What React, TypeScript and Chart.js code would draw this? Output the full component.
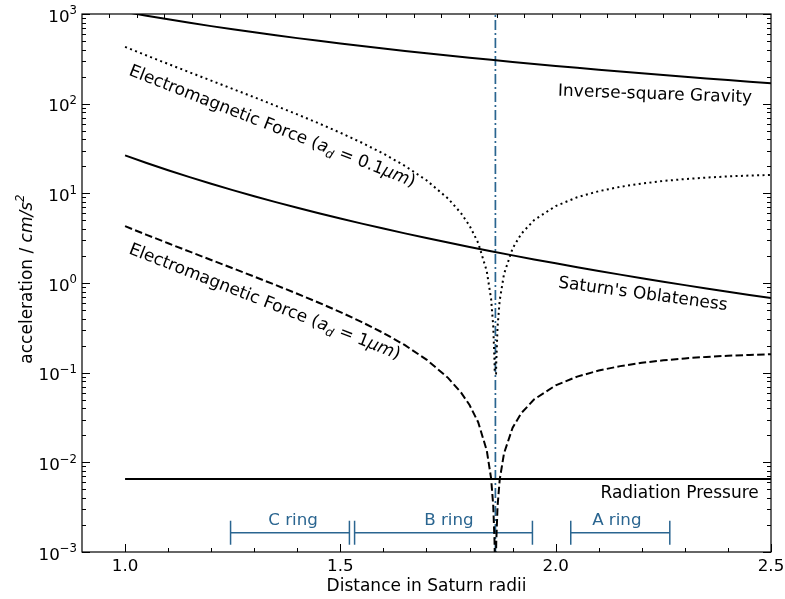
import React, { useEffect, useRef } from 'react';
import { Chart, registerables } from 'chart.js';

Chart.register(...registerables);

const FONT = '"DejaVu Sans", "Liberation Sans", sans-serif';
const BLUE = '#2a6590';
const INK = '#000000';

// ---- data ----
const distance = [
  1.0, 1.05, 1.1, 1.15, 1.2, 1.25, 1.3, 1.35, 1.4, 1.45, 1.5, 1.55, 1.6, 1.65, 1.7, 1.75, 1.8, 1.85, 1.9, 1.95, 2.0,
  2.05, 2.1, 2.15, 2.2, 2.25, 2.3, 2.35, 2.4, 2.45, 2.5,
];
const gravity = [
  1055, 956.9, 871.9, 797.7, 732.6, 675.2, 624.3, 578.9, 538.3, 501.8, 468.9, 439.1, 412.1, 387.5, 365.1, 344.5, 325.6,
  308.3, 292.2, 277.4, 263.8, 251.0, 239.2, 228.2, 218.0, 208.4, 199.4, 191.0, 183.2, 175.8, 168.8,
];
const oblateness = [
  26.5, 21.8, 18.1, 15.15, 12.78, 10.85, 9.278, 7.978, 6.898, 5.995, 5.235, 4.591, 4.044, 3.575, 3.173, 2.825, 2.524,
  2.262, 2.033, 1.833, 1.656, 1.5, 1.363, 1.24, 1.131, 1.034, 0.947, 0.8689, 0.7987, 0.7355, 0.6784,
];

const emDistance = [
  1.0, 1.05, 1.1, 1.15, 1.2, 1.25, 1.3, 1.35, 1.4, 1.45, 1.5, 1.55, 1.6, 1.65, 1.7, 1.75, 1.78, 1.8, 1.82, 1.84,
  1.85, 1.855, 1.858, 1.8585, 1.8615, 1.862, 1.865, 1.87, 1.88, 1.9, 1.92, 1.95, 2.0, 2.05, 2.1, 2.15, 2.2, 2.25,
  2.3, 2.35, 2.4, 2.45, 2.5,
];
const emSmallGrain = [
  430.1, 344.7, 277.3, 223.7, 180.7, 146.0, 117.8, 94.79, 75.88, 60.28, 47.37, 36.64, 27.7, 20.24, 13.99, 8.751, 6.022,
  4.355, 2.801, 1.352, 0.664, 0.329, 0.131, 0.098, 0.098, 0.13, 0.324, 0.641, 1.26, 2.435, 3.531, 5.037, 7.217, 9.041,
  10.56, 11.83, 12.87, 13.73, 14.43, 14.99, 15.44, 15.78, 16.04,
];
const emLargeGrain = [
  4.301, 3.447, 2.773, 2.237, 1.807, 1.46, 1.178, 0.9479, 0.7588, 0.6028, 0.4737, 0.3664, 0.277, 0.2024, 0.1399,
  0.08751, 0.06022, 0.04355, 0.02801, 0.01352, 0.00664, 0.00329, 0.00131, 0.00098, 0.00098, 0.0013, 0.00324, 0.00641,
  0.0126, 0.02435, 0.03531, 0.05037, 0.07217, 0.09041, 0.1056, 0.1183, 0.1287, 0.1373, 0.1443, 0.1499, 0.1544, 0.1578,
  0.1604,
];
const radiationDistance = [1.0, 2.5];
const radiation = [0.0065, 0.0065];
const syncOrbit = 1.86;

const ringNames = ['C ring', 'B ring', 'A ring'];
const ringInner = [1.245, 1.533, 2.035];
const ringOuter = [1.521, 1.946, 2.265];
const ringLabelX = [1.39, 1.752, 2.142];
const ringLevel = 0.00164;
const ringLabelLevel = 0.00201;

const xMajorTicks = [1.0, 1.5, 2.0, 2.5];
const xTickLabels = ['1.0', '1.5', '2.0', '2.5'];
const xMinorTicks = [1.1, 1.2, 1.3, 1.4, 1.6, 1.7, 1.8, 1.9, 2.1, 2.2, 2.3, 2.4];
const yMajorTicks = [1e-3, 1e-2, 1e-1, 1e0, 1e1, 1e2, 1e3];
const yTickExponents = ['\u22123', '\u22122', '\u22121', '0', '1', '2', '3'];
const topTickStart = 0.9629;
const topTickStep = 0.06427;

type Seg = { t: string; it?: boolean; sub?: boolean; sup?: boolean };

const annotations: { segs: Seg[]; x: number; y: number; angle: number }[] = [
  {
    segs: [
      { t: 'Electromagnetic Force (' },
      { t: 'a', it: true },
      { t: 'd', it: true, sub: true },
      { t: ' = 0.1' },
      { t: '\u03bcm', it: true },
      { t: ')' },
    ],
    x: 1.007,
    y: 210,
    angle: 21.5,
  },
  {
    segs: [
      { t: 'Electromagnetic Force (' },
      { t: 'a', it: true },
      { t: 'd', it: true, sub: true },
      { t: ' = 1' },
      { t: '\u03bcm', it: true },
      { t: ')' },
    ],
    x: 1.007,
    y: 2.15,
    angle: 21.5,
  },
  { segs: [{ t: 'Inverse-square Gravity' }], x: 2.005, y: 122.8, angle: 2 },
  { segs: [{ t: "Saturn's Oblateness" }], x: 2.005, y: 0.893, angle: 7.7 },
  { segs: [{ t: 'Radiation Pressure' }], x: 2.104, y: 0.00399, angle: 0 },
];

function segFont(s: Seg, size: number) {
  const sz = s.sub || s.sup ? size * 0.7 : size;
  return `${s.it ? 'italic ' : ''}${sz}px ${FONT}`;
}

function richWidth(ctx: CanvasRenderingContext2D, segs: Seg[], size: number) {
  let w = 0;
  for (const s of segs) {
    ctx.font = segFont(s, size);
    w += ctx.measureText(s.t).width;
  }
  return w;
}

function drawRich(
  ctx: CanvasRenderingContext2D,
  segs: Seg[],
  x: number,
  y: number,
  angle: number,
  size: number,
  align: 'left' | 'center' | 'right',
  color: string,
) {
  ctx.save();
  ctx.translate(x, y);
  ctx.rotate((angle * Math.PI) / 180);
  const w = richWidth(ctx, segs, size);
  let cx = align === 'left' ? 0 : align === 'center' ? -w / 2 : -w;
  ctx.fillStyle = color;
  ctx.textAlign = 'left';
  ctx.textBaseline = 'alphabetic';
  for (const s of segs) {
    ctx.font = segFont(s, size);
    const dy = s.sub ? size * 0.22 : s.sup ? -size * 0.42 : 0;
    ctx.fillText(s.t, cx, dy);
    cx += ctx.measureText(s.t).width;
  }
  ctx.restore();
}

const decorPlugin = {
  id: 'decor',
  afterDatasetsDraw(chart: any) {
    const { ctx, chartArea: a, scales } = chart;
    const xs = scales.x;
    const ys = scales.y;
    ctx.save();
    ctx.strokeStyle = INK;
    ctx.lineWidth = 1;
    const line = (x1: number, y1: number, x2: number, y2: number) => {
      ctx.beginPath();
      ctx.moveTo(x1, y1);
      ctx.lineTo(x2, y2);
      ctx.stroke();
    };
    // ticks (inward)
    xMajorTicks.forEach((v) => {
      const p = Math.round(xs.getPixelForValue(v)) + 0.5;
      line(p, a.bottom, p, a.bottom - 8);
    });
    xMinorTicks.forEach((v) => {
      const p = Math.round(xs.getPixelForValue(v)) + 0.5;
      line(p, a.bottom, p, a.bottom - 4);
    });
    for (let v = topTickStart; v <= 2.5; v += topTickStep) {
      const p = Math.round(xs.getPixelForValue(v)) + 0.5;
      line(p, a.top, p, a.top + 4);
    }
    yMajorTicks.forEach((v, i) => {
      const p = Math.round(ys.getPixelForValue(v)) + 0.5;
      line(a.left, p, a.left + 8, p);
      line(a.right, p, a.right - 8, p);
      if (i < yMajorTicks.length - 1) {
        for (let m = 2; m <= 9; m++) {
          const q = Math.round(ys.getPixelForValue(v * m)) + 0.5;
          line(a.left, q, a.left + 4, q);
          line(a.right, q, a.right - 4, q);
        }
      }
    });
    // frame
    ctx.lineWidth = 1.2;
    ctx.strokeRect(a.left, a.top, a.right - a.left, a.bottom - a.top);

    // tick labels
    const TS = 16.7;
    xMajorTicks.forEach((v, i) => {
      const p = xs.getPixelForValue(v);
      drawRich(ctx, [{ t: xTickLabels[i] }], p, a.bottom + 19, 0, TS, 'center', INK);
    });
    yMajorTicks.forEach((v, i) => {
      const p = ys.getPixelForValue(v);
      const segs: Seg[] = [{ t: '10' }, { t: yTickExponents[i], sup: true }];
      drawRich(ctx, segs, a.left - 5, p + 7.5, 0, TS, 'right', INK);
    });

    // axis titles
    drawRich(ctx, [{ t: 'Distance in Saturn radii' }], (a.left + a.right) / 2, 591, 0, 17, 'center', INK);
    drawRich(
      ctx,
      [{ t: 'acceleration / ' }, { t: 'cm/s', it: true }, { t: '2', it: true, sup: true }],
      31.5,
      (a.top + a.bottom) / 2 - 4,
      -90,
      17,
      'center',
      INK,
    );

    // annotations
    annotations.forEach((an) => {
      drawRich(ctx, an.segs, xs.getPixelForValue(an.x), ys.getPixelForValue(an.y), an.angle, 17, 'left', INK);
    });

    // ring labels
    ringNames.forEach((n, i) => {
      drawRich(ctx, [{ t: n }], xs.getPixelForValue(ringLabelX[i]), ys.getPixelForValue(ringLabelLevel), 0, 16.7, 'center', BLUE);
    });
    ctx.restore();
  },
};

const pts = (xs: number[], ys: number[]) => xs.map((x, i) => ({ x, y: ys[i] }));

export default function App() {
  const ref = useRef<HTMLCanvasElement>(null);
  useEffect(() => {
    if (!ref.current) return;
    const base = { pointRadius: 0, fill: false, tension: 0, clip: 0, borderColor: INK, borderWidth: 2 };
    const ringSets = ringNames.map((n, i) => ({
      label: n,
      data: [
        { x: ringInner[i], y: ringLevel },
        { x: ringOuter[i], y: ringLevel },
      ],
      borderColor: BLUE,
      borderWidth: 1.5,
      pointStyle: 'line',
      pointRadius: 12,
      pointRotation: 90,
      pointBorderColor: BLUE,
      pointBorderWidth: 1.5,
      fill: false,
      clip: 0,
    }));
    const chart = new Chart(ref.current, {
      type: 'line',
      data: {
        datasets: [
          { ...base, label: 'Inverse-square Gravity', data: pts(distance, gravity) },
          { ...base, label: "Saturn's Oblateness", data: pts(distance, oblateness) },
          { ...base, label: 'EM 0.1um', data: pts(emDistance, emSmallGrain), borderDash: [2, 3.4] },
          { ...base, label: 'EM 1um', data: pts(emDistance, emLargeGrain), borderDash: [7.5, 3.3] },
          { ...base, label: 'Radiation Pressure', data: pts(radiationDistance, radiation) },
          {
            ...base,
            label: 'Synchronous orbit',
            data: [
              { x: syncOrbit, y: 1e-3 },
              { x: syncOrbit, y: 1e3 },
            ],
            borderColor: BLUE,
            borderWidth: 1.7,
            borderDash: [10, 3, 2, 3],
          },
          ...ringSets,
        ] as any,
      },
      options: {
        animation: false,
        responsive: false,
        devicePixelRatio: 1,
        events: [],
        layout: { padding: { top: 14, right: 14, left: 0, bottom: 0 } },
        plugins: { legend: { display: false }, tooltip: { enabled: false } },
        scales: {
          x: {
            type: 'linear',
            min: 0.9,
            max: 2.5,
            grid: { display: false },
            border: { display: false },
            ticks: { display: false },
            afterFit: (s: any) => {
              s.height = 47;
            },
          },
          y: {
            type: 'logarithmic',
            min: 1e-3,
            max: 1e3,
            grid: { display: false },
            border: { display: false },
            ticks: { display: false },
            afterFit: (s: any) => {
              s.width = 82;
            },
          },
        },
      } as any,
      plugins: [decorPlugin],
    });
    return () => chart.destroy();
  }, []);
  return (
    <canvas
      ref={ref}
      width={785}
      height={599}
      style={{ position: 'fixed', left: 0, top: 0, width: 785, height: 599, background: '#fff' }}
    />
  );
}
